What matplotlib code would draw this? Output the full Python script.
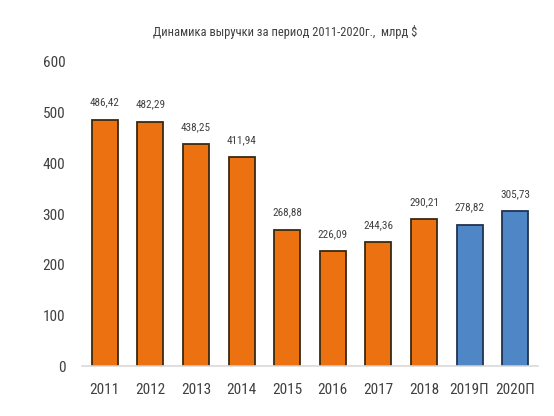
import matplotlib
matplotlib.use('Agg')
import matplotlib.pyplot as plt
from matplotlib import font_manager

# ========== DATA ==========
years = ['2011', '2012', '2013', '2014', '2015', '2016', '2017', '2018', '2019П', '2020П']
revenue = [486.42, 482.29, 438.25, 411.94, 268.88, 226.09, 244.36, 290.21, 278.82, 305.73]
forecast = [False] * 8 + [True] * 2
yticks = [0, 100, 200, 300, 400, 500, 600]
# ==========================

# narrow font if any is installed
fonts = font_manager.fontManager.ttflist
names = {f.name for f in fonts}
cond = [f.name for f in fonts if f.stretch in ('condensed', 'semi-condensed', 'extra-condensed', 600, 700, 800)
        or 'Narrow' in f.name or 'Condensed' in f.name]
cands = ['Liberation Sans Narrow', 'Roboto Condensed', 'Open Sans Condensed', 'DejaVu Sans Condensed']
FONT = next((c for c in cands if c in names), None)
STRETCH = 'normal'
if FONT is None:
    FONT = 'DejaVu Sans'
    STRETCH = 'condensed'
plt.rcParams['font.family'] = [FONT, 'DejaVu Sans']
plt.rcParams['font.stretch'] = STRETCH

ORANGE = '#EC7111'
BLUE = '#4F86C6'

fig = plt.figure(figsize=(5.54, 4.16), dpi=100)
ax = fig.add_axes([0.148, 0.120, 0.823, 0.731])

colors = [BLUE if f else ORANGE for f in forecast]
edges = ['#1F3350' if f else '#3A2A10' for f in forecast]
x = range(len(years))
ax.bar(x, revenue, width=0.57, color=colors, edgecolor=edges, linewidth=1.3)

for xi, v in zip(x, revenue):
    ax.text(xi, v + 24, f'{v:.2f}'.replace('.', ','), ha='center', va='bottom',
            fontsize=8, color='#404040', fontstretch=STRETCH)

ax.set_xlim(-0.5, len(years) - 0.5)
ax.set_ylim(0, 600)
ax.set_yticks(yticks)
ax.set_xticks(list(x))
ax.set_xticklabels(years)
ax.tick_params(axis='both', length=0, labelsize=11, colors='#404040')
ax.tick_params(axis='y', pad=12)
ax.tick_params(axis='x', pad=12)
for s in ['top', 'right', 'left']:
    ax.spines[s].set_visible(False)
ax.spines['bottom'].set_color('#D9D9D9')
ax.spines['bottom'].set_linewidth(1.2)

fig.text(0.515, 0.923, 'Динамика выручки за период 2011-2020г.,  млрд $', ha='center', va='center',
         fontsize=9, color='#404040', fontstretch=STRETCH)

fig.savefig('out.png', dpi=100)
